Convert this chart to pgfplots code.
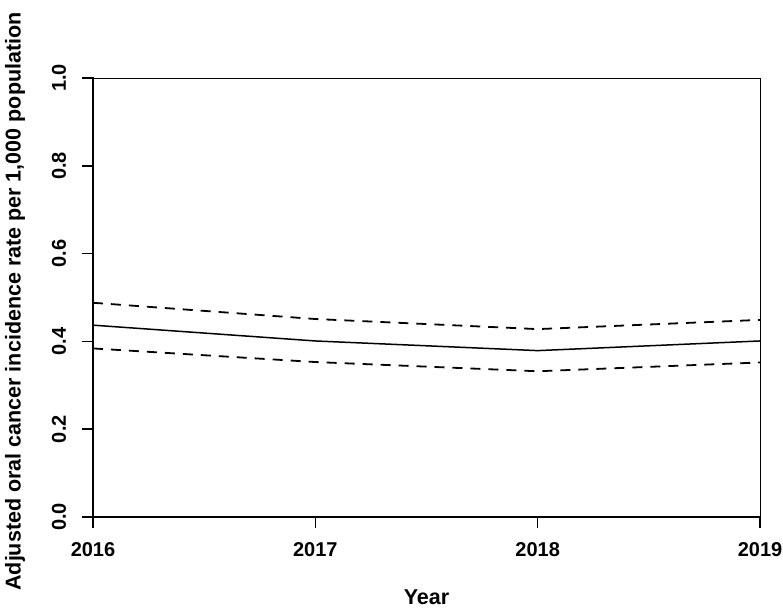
\documentclass[border=0pt]{standalone}
\usepackage{fontspec}
\setmainfont{Liberation Sans}
\usepackage{pgfplots}
\pgfplotsset{compat=1.18}
\begin{document}
\begin{tikzpicture}[x=1pt,y=1pt]
\path[use as bounding box] (-93,-91) rectangle (690,517);
\begin{axis}[
  scale only axis,
  width=667pt, height=439pt,
  at={(0pt,0pt)}, anchor=south west,
  xmin=2016, xmax=2019, ymin=0, ymax=1,
  xtick={2016,2017,2018,2019},
  ytick={0,0.2,0.4,0.6,0.8,1.0},
  xticklabels={2016,2017,2018,2019},
  yticklabels={0.0,0.2,0.4,0.6,0.8,1.0},
  tick align=outside,
  major tick length=11pt,
  tick style={line width=1.6pt, black},
  xtick pos=bottom, ytick pos=left,
  axis line style={line width=0.8pt},
  ticklabel style={font=\fontsize{20}{22}\selectfont\bfseries},
  yticklabel style={xshift=-23pt, rotate=90, anchor=center},
  xticklabel style={anchor=center, yshift=-22pt},
  every axis x label/.style={at={(rel axis cs:0.5,0)}, anchor=base, yshift=-87pt, font=\fontsize{21.5}{24}\selectfont\bfseries},
  every axis y label/.style={at={(rel axis cs:0,0.5)}, xshift=-78pt, yshift=-4pt, rotate=90, anchor=center, font=\fontsize{21.5}{24}\selectfont\bfseries},
  xlabel={Year},
  ylabel={Adjusted oral cancer incidence rate per 1,000 population},
  clip=false,
]
\addplot[black, line width=1.5pt] coordinates {(2016,0.437) (2017,0.401) (2018,0.379) (2019,0.401)};
\addplot[black, line width=1.8pt, dash pattern=on 10pt off 8pt] coordinates {(2016,0.488) (2017,0.451) (2018,0.428) (2019,0.449)};
\addplot[black, line width=1.8pt, dash pattern=on 10pt off 8pt] coordinates {(2016,0.384) (2017,0.353) (2018,0.332) (2019,0.352)};
\draw[line width=1.8pt, line cap=rect] (rel axis cs:0,0) -- (rel axis cs:0,1);
\draw[line width=1.8pt, line cap=rect] (rel axis cs:0,0) -- (rel axis cs:1,0);
\end{axis}
\end{tikzpicture}
\end{document}
